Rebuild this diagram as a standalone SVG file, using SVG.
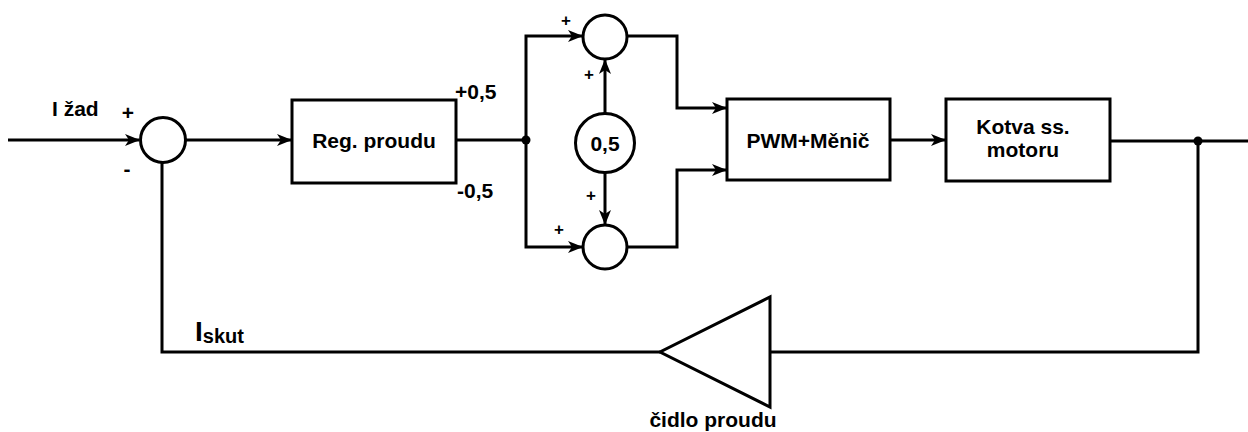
<svg xmlns="http://www.w3.org/2000/svg" width="1248" height="432" viewBox="0 0 1248 432">
<defs>
<style>
.ln{fill:none;stroke:#000;stroke-width:3}
.bx{fill:#fff;stroke:#000;stroke-width:3}
.t{font-family:"Liberation Sans",Arial,sans-serif;font-weight:bold;fill:#000}
.lbl{font-size:21px}
.sg{font-size:17px}
</style>
<marker id="ar" markerUnits="userSpaceOnUse" markerWidth="16" markerHeight="12" refX="14" refY="6" orient="auto">
<path d="M0,0 L15,6 L0,12 L4,6 z" fill="#000"/>
</marker>
</defs>
<rect width="1248" height="432" fill="#fff"/>
<g id="connectors">
<path class="ln" d="M8,140 H139" marker-end="url(#ar)"/>
<path class="ln" d="M186,140 H291" marker-end="url(#ar)"/>
<path class="ln" d="M456,140 H526"/>
<path class="ln" d="M526,140 V36 H582" marker-end="url(#ar)"/>
<path class="ln" d="M526,140 V247 H582" marker-end="url(#ar)"/>
<path class="ln" d="M605,113 V60" marker-end="url(#ar)"/>
<path class="ln" d="M605,172 V224" marker-end="url(#ar)"/>
<path class="ln" d="M627,36 H677 V108 H726" marker-end="url(#ar)"/>
<path class="ln" d="M627,247 H677 V170 H726" marker-end="url(#ar)"/>
<path class="ln" d="M890,140 H945" marker-end="url(#ar)"/>
<path class="ln" d="M1110,141 H1248"/>
<path class="ln" d="M1198,141 V352 H770"/>
<path class="ln" d="M660,352 H162 V163"/>
<circle cx="526" cy="140" r="4.5" fill="#000"/>
<circle cx="1198" cy="141" r="4.5" fill="#000"/>
</g>
<g id="sum1">
<circle class="bx" cx="163" cy="140" r="22.5"/>
<text class="t lbl" x="128" y="120" text-anchor="middle">+</text>
<text class="t lbl" x="127" y="176" text-anchor="middle">-</text>
</g>
<g id="reg">
<rect class="bx" x="292" y="100" width="164" height="83"/>
<text class="t lbl" x="374" y="148" text-anchor="middle">Reg. proudu</text>
</g>
<g id="sumTop">
<circle class="bx" cx="605" cy="37" r="22"/>
<text class="t sg" x="566" y="26" text-anchor="middle">+</text>
<text class="t sg" x="589" y="80" text-anchor="middle">+</text>
</g>
<g id="gain">
<circle class="bx" cx="605" cy="143" r="29.5"/>
<text class="t lbl" x="605" y="151" text-anchor="middle">0,5</text>
</g>
<g id="sumBot">
<circle class="bx" cx="605" cy="247" r="22"/>
<text class="t sg" x="591" y="201" text-anchor="middle">+</text>
<text class="t sg" x="559" y="235" text-anchor="middle">+</text>
</g>
<g id="pwm">
<rect class="bx" x="727" y="99" width="163" height="81"/>
<text class="t lbl" x="808" y="148" text-anchor="middle">PWM+Měnič</text>
</g>
<g id="kotva">
<rect class="bx" x="946" y="99" width="164" height="82"/>
<text class="t lbl" x="1023" y="134" text-anchor="middle">Kotva ss.</text>
<text class="t lbl" x="1023" y="157" text-anchor="middle">motoru</text>
</g>
<g id="sensor">
<polygon class="bx" points="770,297 770,407 660,352"/>
<text class="t lbl" x="713" y="427" text-anchor="middle">čidlo proudu</text>
</g>
<g id="labels">
<text class="t lbl" x="52" y="116">I žad</text>
<text class="t lbl" x="455" y="99">+0,5</text>
<text class="t lbl" x="457" y="198">-0,5</text>
<text class="t" x="195" y="341" font-size="28">I<tspan font-size="20" dy="2">skut</tspan></text>
</g>
</svg>
